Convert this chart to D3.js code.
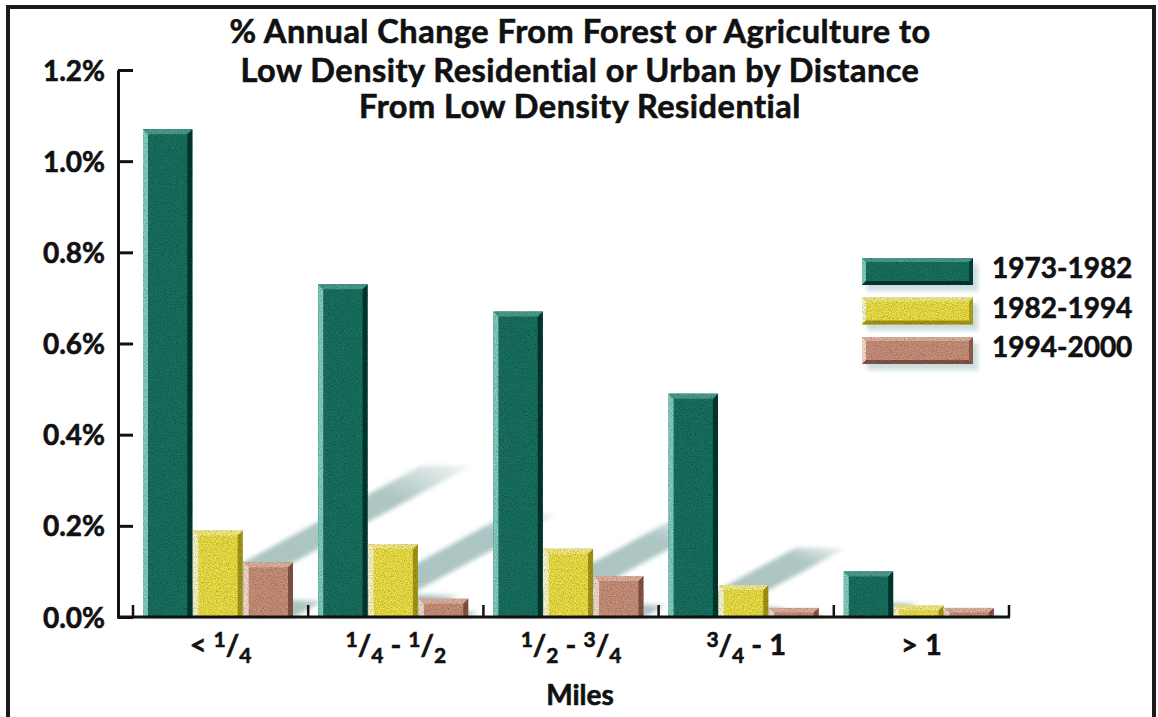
<!DOCTYPE html>
<html>
<head>
<meta charset="utf-8">
<script src="https://cdn.jsdelivr.net/npm/d3@7"></script>
<style>
  html, body { margin: 0; padding: 0; background: #ffffff; }
  svg { display: block; }
  text { font-family: Lato, "Open Sans", sans-serif; font-weight: 700; fill: #111; stroke: #111; stroke-width: 0.6px; }
</style>
</head>
<body>
<svg id="chart" width="1158" height="717"></svg>
<script>
// Distance bands from existing low density residential land (miles)
const categories = ["< 1/4", "1/4 - 1/2", "1/2 - 3/4", "3/4 - 1", "> 1"];
const seriesNames = ["1973-1982", "1982-1994", "1994-2000"];
// Percent of land converted per year, by period
const values1973 = [1.07, 0.73, 0.67, 0.49, 0.10];
const values1982 = [0.19, 0.16, 0.15, 0.07, 0.025];
const values1994 = [0.12, 0.04, 0.09, 0.02, 0.02];
const yTicks = [0, 0.2, 0.4, 0.6, 0.8, 1.0, 1.2];
const titleLines = [
  "% Annual Change From Forest or Agriculture to",
  "Low Density Residential or Urban by Distance",
  "From Low Density Residential"
];
const xTitle = "Miles";

const seriesValues = [values1973, values1982, values1994];

// Bevel palettes: body, left highlight, top bevel, right shade
const palettes = [
  { body: "#1b7362", light: "#86d2c6", top: "#4f9f90", dark: "#0b3b31" },
  { body: "#f1e446", light: "#fffbd2", top: "#f8ef8a", dark: "#a99a1f" },
  { body: "#cc937c", light: "#f8e0d3", top: "#e3b5a2", dark: "#87574a" }
];

const svg = d3.select("#chart");
const defs = svg.append("defs");

// Fine grain texture laid over each bar
const grain = defs.append("filter").attr("id", "grain")
  .attr("x", 0).attr("y", 0).attr("width", 1).attr("height", 1);
grain.append("feTurbulence").attr("type", "fractalNoise")
  .attr("baseFrequency", 0.85).attr("numOctaves", 2).attr("seed", 7).attr("result", "noise");
grain.append("feColorMatrix").attr("in", "noise").attr("type", "matrix")
  .attr("values", "0 0 0 0 0  0 0 0 0 0  0 0 0 0 0  1.1 0 0 0 -0.38").attr("result", "speck");
grain.append("feComposite").attr("in", "speck").attr("in2", "SourceGraphic")
  .attr("operator", "in").attr("result", "speckIn");
const gm = grain.append("feMerge");
gm.append("feMergeNode").attr("in", "SourceGraphic");
gm.append("feMergeNode").attr("in", "speckIn");

const soft = defs.append("filter").attr("id", "soft")
  .attr("x", "-20%").attr("y", "-20%").attr("width", "140%").attr("height", "140%");
soft.append("feGaussianBlur").attr("stdDeviation", 2.2);

const shadowGrad = defs.append("linearGradient").attr("id", "shadowGrad")
  .attr("x1", 0).attr("y1", 1).attr("x2", 1).attr("y2", 0);
shadowGrad.append("stop").attr("offset", 0).attr("stop-color", "#a9c3c0").attr("stop-opacity", 1);
shadowGrad.append("stop").attr("offset", 0.78).attr("stop-color", "#a9c3c0").attr("stop-opacity", 0.95);
shadowGrad.append("stop").attr("offset", 1).attr("stop-color", "#a9c3c0").attr("stop-opacity", 0.15);

// Scales
const x0 = d3.scaleBand().domain(categories).range([133, 1009]).paddingInner(0).paddingOuter(0);
const x1 = d3.scaleBand().domain(seriesNames).range([10, 161]).padding(0);
const y = d3.scaleLinear().domain([0, 1.2]).range([617, 70]);

// Frame
svg.append("rect").attr("x", 8).attr("y", 7).attr("width", 1146).attr("height", 760)
  .attr("fill", "none").attr("stroke", "#1a1a1a").attr("stroke-width", 4);

// Title
svg.append("g").selectAll("text").data(titleLines).join("text")
  .attr("x", 580).attr("y", (d, i) => [43, 82, 118][i])
  .attr("text-anchor", "middle").attr("font-size", 32.5)
  .attr("letter-spacing", 0.5).attr("stroke-width", 0.8).text(d => d);

// Flattened bar records
const bars = [];
seriesNames.forEach((s, si) => {
  categories.forEach((c, ci) => {
    bars.push({ series: s, si, cat: c, value: seriesValues[si][ci] });
  });
});

// Cast shadows on the floor, drawn behind bars
const shadowLayer = svg.append("g").attr("filter", "url(#soft)");
shadowLayer.selectAll("polygon").data(bars).join("polygon")
  .attr("fill", "url(#shadowGrad)")
  .attr("points", d => {
    const xl = x0(d.cat) + x1(d.series);
    const xr = xl + x1.bandwidth();
    const base = y(0);
    const h = base - y(d.value);
    const dx = 0.57 * h, dy = -0.31 * h;
    return [[xl, base], [xr, base], [xr + dx, base + dy], [xl + dx, base + dy]]
      .map(p => p.join(",")).join(" ");
  });

// Bars with bevelled edges
const barG = svg.append("g").selectAll("g").data(bars).join("g")
  .attr("filter", "url(#grain)");
barG.each(function (d) {
  const g = d3.select(this);
  const p = palettes[d.si];
  const xl = x0(d.cat) + x1(d.series);
  const w = x1.bandwidth() - 1;
  const top = y(d.value);
  const h = y(0) - top;
  const bev = Math.min(5, h / 2);
  g.append("rect").attr("x", xl).attr("y", top).attr("width", w).attr("height", h).attr("fill", p.body);
  g.append("polygon").attr("fill", p.light)
    .attr("points", `${xl},${top} ${xl + 5},${top + bev} ${xl + 5},${top + h} ${xl},${top + h}`);
  g.append("polygon").attr("fill", p.dark)
    .attr("points", `${xl + w},${top} ${xl + w},${top + h} ${xl + w - 5},${top + h} ${xl + w - 5},${top + bev}`);
  g.append("polygon").attr("fill", p.top)
    .attr("points", `${xl},${top} ${xl + w},${top} ${xl + w - 5},${top + bev} ${xl + 5},${top + bev}`);
});

// Y axis: ticks point into the plot
const yAxis = d3.axisLeft(y).tickValues(yTicks)
  .tickSizeInner(-15).tickSizeOuter(0).tickPadding(13)
  .tickFormat(d => d3.format(".1f")(d) + "%");
const yg = svg.append("g").attr("transform", "translate(118,0)").call(yAxis);
yg.select(".domain").attr("stroke", "#111").attr("stroke-width", 3);
yg.selectAll(".tick line").attr("stroke", "#111").attr("stroke-width", 3);
yg.selectAll(".tick text").attr("font-size", 28).attr("font-family", "Lato, sans-serif")
  .attr("font-weight", 700).attr("fill", "#111").attr("dy", "0.36em");

// X axis baseline with upward tick marks at band edges
svg.append("line").attr("x1", 117).attr("x2", 1010).attr("y1", y(0)).attr("y2", y(0))
  .attr("stroke", "#111").attr("stroke-width", 3);
const edges = categories.map(c => x0(c)).concat([x0.range()[1]]);
svg.append("g").selectAll("line").data(edges).join("line")
  .attr("x1", d => d).attr("x2", d => d).attr("y1", y(0) - 12).attr("y2", y(0))
  .attr("stroke", "#111").attr("stroke-width", 2.5);

// Category labels: digit/digit rendered as a raised-lowered fraction
const xLabels = svg.append("g").selectAll("text").data(categories).join("text")
  .attr("x", d => x0(d) + x0.bandwidth() / 2).attr("y", 655)
  .attr("text-anchor", "middle").attr("font-size", 29);
xLabels.each(function (d) {
  const t = d3.select(this);
  const parts = d.split(/(\d\/\d)/).filter(s => s.length);
  let carry = 0;
  parts.forEach(part => {
    const m = part.match(/^(\d)\/(\d)$/);
    if (m) {
      t.append("tspan").attr("font-size", 21).attr("dy", carry - 8).text(m[1]);
      t.append("tspan").attr("font-size", 29).attr("dy", 8).text("/");
      t.append("tspan").attr("font-size", 21).attr("dy", 8).text(m[2]);
      carry = -8;
    } else {
      t.append("tspan").attr("font-size", 29).attr("dy", carry).text(part.replace(/ /g, "\u00A0"));
      carry = 0;
    }
  });
});

svg.append("text").attr("x", 580).attr("y", 705).attr("text-anchor", "middle")
  .attr("font-size", 28).text(xTitle);

// Legend
const leg = svg.append("g").selectAll("g").data(seriesNames).join("g")
  .attr("transform", (d, i) => `translate(862,${258 + i * 39.5})`);
leg.append("rect").attr("x", 5).attr("y", 6).attr("width", 111).attr("height", 27)
  .attr("fill", "#b7cdd0").attr("opacity", 0.7).attr("filter", "url(#soft)");
leg.each(function (d, i) {
  const g = d3.select(this).append("g").attr("filter", "url(#grain)");
  const p = palettes[i];
  const w = 111, h = 27, b = 4;
  g.append("rect").attr("width", w).attr("height", h).attr("fill", p.body);
  g.append("polygon").attr("fill", p.top).attr("points", `0,0 ${w},0 ${w - b},${b} ${b},${b}`);
  g.append("polygon").attr("fill", p.light).attr("points", `0,0 ${b},${b} ${b},${h - b} 0,${h}`);
  g.append("polygon").attr("fill", p.dark).attr("points", `0,${h} ${b},${h - b} ${w - b},${h - b} ${w},${h}`);
  g.append("polygon").attr("fill", p.dark).attr("opacity", 0.8).attr("points", `${w},0 ${w},${h} ${w - b},${h - b} ${w - b},${b}`);
});
leg.append("text").attr("x", 130).attr("y", 20).attr("font-size", 28).text(d => d);
</script>
</body>
</html>
